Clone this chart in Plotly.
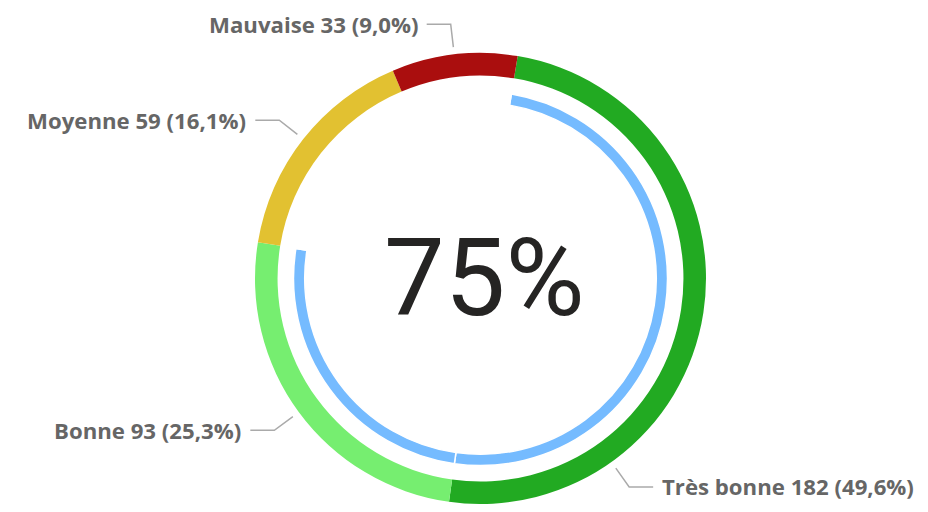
import math
import plotly.graph_objects as go

# ---- data ----
categories = ["Très bonne", "Bonne", "Moyenne", "Mauvaise"]
counts = [182, 93, 59, 33]
gauge_categories = ["Très bonne", "Bonne"]  # share shown by the inner blue gauge

# ---- style / layout ----
PAGE_OFF = 8                 # page body margin offset of the plot div
W, H = 928 - 2 * PAGE_OFF, 512 - 2 * PAGE_OFF
CX, CY = 480.5 - PAGE_OFF, 278.5 - PAGE_OFF   # pixel centre inside the figure
R_OUT = 225.5
R_OUT_HOLE = 0.9
R_BLUE = 187
R_BLUE_HOLE = 0.94
ROT = 9.5
slice_colors = ["#22AA22", "#76EE70", "#E2C131", "#AA0E0E"]
blue = "#75BBFF"
label_angle_override = {"Très bonne": 144.5}
R_LEAD0, R_LEAD1, LEAD_H, TXT_GAP = 233, 256, 24, 7

total = sum(counts)
gauge_vals = [counts[categories.index(c)] for c in gauge_categories]
gauge_share = sum(gauge_vals) / total


def dom(r):
    return dict(x=[max(0, (CX - r) / W), min(1, (CX + r) / W)],
                y=[max(0, (H - CY - r) / H), min(1, (H - CY + r) / H)])


fig = go.Figure()
fig.add_trace(go.Pie(
    values=counts, labels=categories, sort=False, direction="clockwise",
    rotation=ROT, hole=R_OUT_HOLE, textinfo="none",
    marker=dict(colors=slice_colors, line=dict(width=0)),
    domain=dom(R_OUT), showlegend=False,
))
fig.add_trace(go.Pie(
    values=gauge_vals + [total - sum(gauge_vals)],
    labels=gauge_categories + ["Autres"], sort=False, direction="clockwise",
    rotation=ROT, hole=R_BLUE_HOLE, textinfo="none",
    marker=dict(colors=[blue] * len(gauge_vals) + ["rgba(0,0,0,0)"],
                line=dict(color="white", width=1.5)),
    domain=dom(R_BLUE), showlegend=False, hoverinfo="skip",
))


def px2paper(x, y):
    return x / W, 1 - y / H


def fmt_pct(v):
    return f"{100 * v / total:.1f}".replace(".", ",")


annotations = []
shapes = []
start = ROT
for cat, v in zip(categories, counts):
    span = 360 * v / total
    mid = start + span / 2
    start += span
    a = math.radians(label_angle_override.get(cat, mid))
    s, c = math.sin(a), math.cos(a)
    x0, y0 = CX + R_LEAD0 * s, CY - R_LEAD0 * c
    x1, y1 = CX + R_LEAD1 * s, CY - R_LEAD1 * c
    side = 1 if s > 0 else -1
    x2 = x1 + side * LEAD_H
    p0, p1, p2 = px2paper(x0, y0), px2paper(x1, y1), px2paper(x2, y1)
    shapes.append(dict(
        type="path", xref="paper", yref="paper",
        path=f"M {p0[0]} {p0[1]} L {p1[0]} {p1[1]} L {p2[0]} {p2[1]}",
        line=dict(color="#AAAAAA", width=1.5),
    ))
    tx, ty = px2paper(x2 + side * TXT_GAP, y1)
    annotations.append(dict(
        x=tx, y=ty, xref="paper", yref="paper", showarrow=False,
        xanchor="left" if side > 0 else "right", yanchor="middle",
        text=f"{cat} {v} ({fmt_pct(v)}%)",
        font=dict(family="Open Sans", size=22.2, color="#666666", weight="bold"),
    ))

cx_p, cy_p = px2paper(CX + 4, CY - 1)
annotations.append(dict(
    x=cx_p, y=cy_p, xref="paper", yref="paper", showarrow=False,
    xanchor="center", yanchor="middle",
    text=f"{round(100 * gauge_share)}%",
    font=dict(family="Roboto", size=108, color="#252423"),
))

fig.update_layout(
    width=W, height=H, margin=dict(l=0, r=0, t=0, b=0),
    paper_bgcolor="white", plot_bgcolor="white",
    annotations=annotations, shapes=shapes, showlegend=False,
)

fig.write_html("out.html")
